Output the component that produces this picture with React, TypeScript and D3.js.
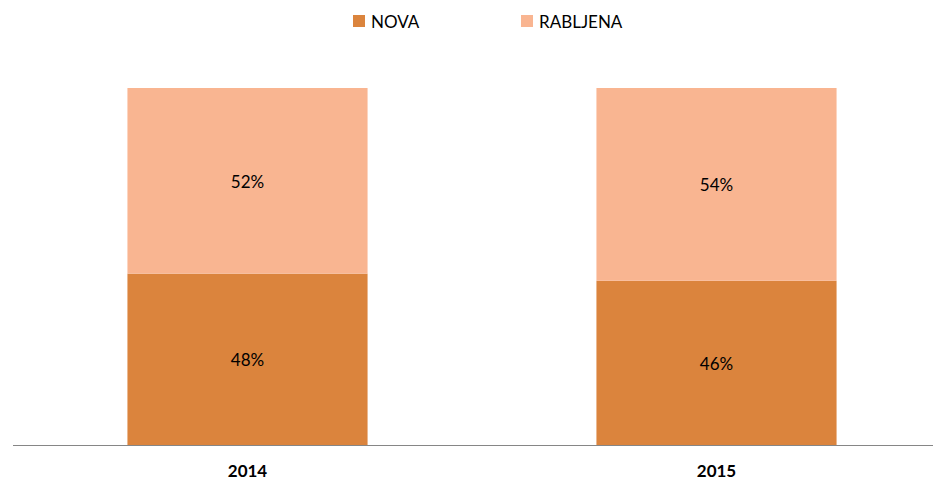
import React, { useRef, useEffect } from 'react';
import * as d3 from 'd3';

const years = ['2014', '2015'];
const nova = [48, 46];
const rabljena = [52, 54];
const seriesNames = ['NOVA', 'RABLJENA'];
const colors = ['#DB843D', '#F9B591'];

const W = 933;
const H = 483;

export default function App() {
  const svgRef = useRef<SVGSVGElement>(null);

  useEffect(() => {
    const svg = d3.select(svgRef.current);
    svg.selectAll('*').remove();

    const x = d3.scaleBand<string>().domain(years).range([13, 951]).paddingInner(0.488).paddingOuter(0.244);
    const y = d3.scaleLinear().domain([0, 100]).range([445, 88]);

    // stacked data
    const rows = years.map((yr, i) => ({ year: yr, NOVA: nova[i], RABLJENA: rabljena[i] }));
    const stack = d3.stack<any>().keys(seriesNames)(rows);

    stack.forEach((layer, li) => {
      const g = svg.append('g');
      g.selectAll('rect')
        .data(layer)
        .join('rect')
        .attr('x', d => x(d.data.year)!)
        .attr('width', x.bandwidth())
        .attr('y', d => y(d[1]))
        .attr('height', d => y(d[0]) - y(d[1]))
        .attr('fill', colors[li]);
      g.selectAll('text')
        .data(layer)
        .join('text')
        .attr('x', d => x(d.data.year)! + x.bandwidth() / 2)
        .attr('y', d => (y(d[0]) + y(d[1])) / 2 + 7)
        .attr('text-anchor', 'middle')
        .attr('font-size', 17)
        .attr('fill', '#000')
        .text(d => `${d[1] - d[0]}%`);
    });

    // baseline axis
    svg.append('line')
      .attr('x1', 13).attr('x2', W)
      .attr('y1', y(0) + 0.5).attr('y2', y(0) + 0.5)
      .attr('stroke', '#868686').attr('stroke-width', 1);

    svg.append('g').selectAll('text')
      .data(years)
      .join('text')
      .attr('x', d => x(d)! + x.bandwidth() / 2)
      .attr('y', 477)
      .attr('text-anchor', 'middle')
      .attr('font-size', 17)
      .attr('font-weight', 'bold')
      .text(d => d);

    // legend
    const legendX = [353, 521];
    const lg = svg.append('g');
    seriesNames.forEach((name, i) => {
      lg.append('rect').attr('x', legendX[i]).attr('y', 15).attr('width', 12).attr('height', 12).attr('fill', colors[i]);
      lg.append('text').attr('x', legendX[i] + 18).attr('y', 27.5).attr('font-size', 17).text(name);
    });
  }, []);

  return (
    <svg
      ref={svgRef}
      width={W}
      height={H}
      style={{ position: 'absolute', left: 0, top: 0, background: '#fff', fontFamily: 'Lato, "Open Sans", sans-serif' }}
    />
  );
}
